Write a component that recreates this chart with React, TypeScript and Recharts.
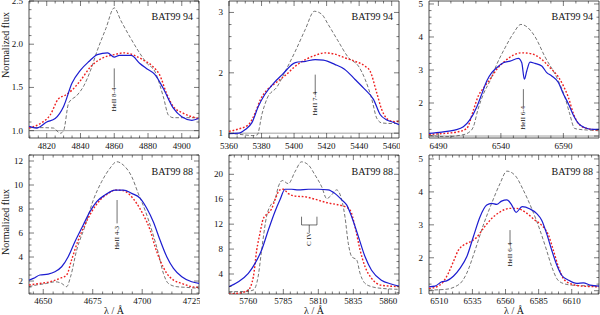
import React from 'react';
import { LineChart, Line, XAxis, YAxis, ReferenceLine, ReferenceArea, ReferenceDot } from 'recharts';

type P = [number, number];

// ---------- Panel 1: BAT99 94, HeII 8-4 ----------
const p1Obs: P[] = [[4809.5,1.05],[4814,1.03],[4820,1.1],[4825,1.14],[4830,1.28],[4835,1.55],[4840,1.7],[4845,1.8],[4850,1.88],[4856,1.9],[4860,1.85],[4863,1.87],[4870,1.87],[4875,1.78],[4879,1.72],[4884,1.65],[4889,1.49],[4895,1.26],[4900,1.16],[4906,1.12],[4910,1.14]];
const p1Red: P[] = [[4809.5,1.03],[4816,1.08],[4822,1.18],[4827,1.37],[4831,1.41],[4835,1.47],[4840,1.58],[4846,1.74],[4852,1.83],[4860,1.88],[4866,1.9],[4872,1.87],[4877,1.82],[4883,1.74],[4887,1.64],[4891,1.43],[4895,1.28],[4901,1.2],[4910,1.14]];
const p1Dash: P[] = [[4809.5,1.035],[4816,1.035],[4824,1.03],[4828,0.97],[4830,1.0],[4833,1.32],[4838,1.41],[4842,1.52],[4846,1.7],[4850,1.93],[4855,2.18],[4860,2.42],[4864,2.27],[4869.4,2.08],[4874,1.93],[4879.3,1.78],[4884.2,1.68],[4889.1,1.39],[4892.1,1.18],[4895,1.15],[4902,1.15],[4910,1.15]];
const p1XTicks = [4820, 4840, 4860, 4880, 4900];
const p1YTicks = [1.0, 1.5, 2.0, 2.5];

// ---------- Panel 2: BAT99 94, HeII 7-4 ----------
const p2Obs: P[] = [[5360,0.99],[5366,1.0],[5370,1.06],[5374,1.17],[5378,1.44],[5382,1.64],[5387.5,1.83],[5392.7,1.97],[5400.8,2.17],[5407,2.19],[5413,2.22],[5418,2.21],[5425,2.14],[5431,2.06],[5437.5,1.89],[5443.7,1.72],[5448.8,1.56],[5452.9,1.31],[5457,1.22],[5461,1.18],[5464.5,1.14]];
const p2Red: P[] = [[5360,1.03],[5366,1.07],[5372,1.14],[5376,1.33],[5379.4,1.56],[5383.5,1.72],[5388.6,1.83],[5394.7,1.96],[5400.8,2.11],[5407,2.22],[5413,2.29],[5419,2.33],[5425,2.31],[5431,2.25],[5437.5,2.19],[5443.7,2.11],[5446.7,2.03],[5450.8,1.67],[5453.9,1.39],[5458,1.22],[5462,1.19],[5464.5,1.2]];
const p2Dash: P[] = [[5360,1.0],[5370.2,0.97],[5374.3,0.96],[5377.3,0.97],[5380.4,1.33],[5383.5,1.58],[5389.6,1.77],[5394.7,2.03],[5400.8,2.36],[5406.9,2.72],[5412.5,3.02],[5417,2.97],[5421,2.8],[5427,2.53],[5433.5,2.25],[5439.6,2.11],[5443.7,1.89],[5447.8,1.56],[5450.8,1.25],[5453.9,1.17],[5460,1.16],[5464.5,1.16]];
const p2XTicks = [5360, 5380, 5400, 5420, 5440, 5460];
const p2YTicks = [1, 2, 3];

// ---------- Panel 3: BAT99 94, HeII 6-4 ----------
const p3Obs: P[] = [[6482.5,1.08],[6492.7,1.12],[6503,1.18],[6510,1.28],[6515,1.48],[6520.7,1.88],[6524.7,2.27],[6528.7,2.67],[6532.7,2.92],[6536.7,3.07],[6542,3.22],[6547.3,3.27],[6554,3.35],[6556.7,3.22],[6558.8,2.72],[6560.7,2.97],[6563.3,3.24],[6567.3,3.2],[6572.7,3.12],[6576.7,2.92],[6580.7,2.82],[6586,2.62],[6590,2.27],[6594,1.98],[6598,1.63],[6602,1.38],[6607.3,1.25],[6614,1.2],[6618.5,1.2]];
const p3Red: P[] = [[6482.5,1.05],[6495.3,1.08],[6506,1.13],[6512.7,1.23],[6518,1.78],[6522,2.22],[6526,2.45],[6531.3,2.72],[6536.7,3.02],[6543.3,3.27],[6550,3.45],[6556.7,3.52],[6564.7,3.49],[6572.7,3.32],[6579.3,3.07],[6586,2.79],[6590,2.52],[6594,2.17],[6598,1.68],[6602,1.38],[6608.7,1.23],[6618.5,1.18]];
const p3Dash: P[] = [[6482.5,1.03],[6495,0.98],[6508.7,1.03],[6514,1.1],[6518,1.28],[6521.5,1.78],[6526,2.27],[6531.3,2.67],[6536.7,3.17],[6543.3,3.67],[6550,4.11],[6556,4.38],[6560.7,4.31],[6567.3,4.01],[6575,3.42],[6586,2.67],[6591.3,2.17],[6595,1.68],[6599,1.23],[6603,1.2],[6610,1.18],[6618.5,1.16]];
const p3XTicks = [6490, 6540, 6590];
const p3YTicks = [1, 2, 3, 4, 5];

// ---------- Panel 4: BAT99 88, HeII 4-3 ----------
const p4Obs: P[] = [[4642.8,2.08],[4645,2.22],[4648.3,2.5],[4652.5,2.58],[4655.9,2.78],[4659.3,3.19],[4662.6,4.03],[4666,5.28],[4670.2,6.67],[4673.6,7.78],[4677,8.61],[4681.2,9.17],[4686.3,9.58],[4690.5,9.58],[4694.7,9.3],[4699,8.89],[4702.3,8.06],[4705.6,6.94],[4709,5.42],[4712.4,4.03],[4715.8,3.06],[4720,2.36],[4725,1.94],[4728.7,1.8]];
const p4Red: P[] = [[4642.8,1.67],[4648.3,1.8],[4653.4,1.94],[4658.4,2.22],[4661.8,2.5],[4664.3,3.75],[4667.7,5.42],[4671,6.67],[4674.5,7.78],[4678.7,8.75],[4682.9,9.3],[4686.3,9.58],[4690.5,9.53],[4693.8,9.17],[4697.2,8.47],[4700.6,7.5],[4704,6.25],[4706.5,4.86],[4709,3.75],[4712.4,2.64],[4715.8,2.08],[4720,1.8],[4725,1.53],[4728.7,1.47]];
const p4Dash: P[] = [[4642.8,1.53],[4646.6,1.67],[4651.7,1.8],[4655.9,1.94],[4659.3,1.8],[4661.8,1.53],[4663.8,2.36],[4666.9,4.58],[4671,6.53],[4675.3,8.75],[4679.5,10.28],[4683.7,11.39],[4687.1,11.94],[4690.4,11.67],[4694.7,10.7],[4698,9.3],[4701.4,7.92],[4704.8,6.25],[4708.2,4.3],[4710.7,2.64],[4713.2,1.8],[4717.5,1.53],[4722.5,1.47],[4728.7,1.39]];
const p4XTicks = [4650, 4675, 4700, 4725];
const p4YTicks = [2, 4, 6, 8, 10, 12];

// ---------- Panel 5: BAT99 88, C IV ----------
const p5Obs: P[] = [[5746.2,1.97],[5752.9,2.77],[5760,4.1],[5764.8,5.7],[5769.5,7.85],[5774.3,11.06],[5779,14.0],[5782.6,15.9],[5786.2,17.6],[5791,17.6],[5795.7,17.5],[5802.9,17.6],[5810,17.6],[5817,17.5],[5822,16.9],[5826.7,15.9],[5830.2,15.1],[5833.8,13.2],[5838.6,10.0],[5843.3,6.8],[5848,4.6],[5855,3.0],[5862,2.4],[5867.6,2.07]];
const p5Red: P[] = [[5746.2,0.79],[5755,1.0],[5760,1.43],[5763.6,3.57],[5766,7.85],[5768.3,10.5],[5770.7,12.9],[5773.8,13.7],[5776.7,14.5],[5779,15.9],[5782.6,17.5],[5785,17.6],[5788.6,16.9],[5793.3,16.5],[5800.5,16.4],[5807.6,16.0],[5817,15.4],[5824.3,15.1],[5829,14.8],[5832.6,14.3],[5836.2,11.6],[5839.8,7.85],[5843.3,5.2],[5848,3.3],[5855,2.2],[5867.6,1.97]];
const p5Dash: P[] = [[5746.2,1.17],[5757.6,1.17],[5763.6,1.43],[5767,3.57],[5769.5,7.85],[5773,13.2],[5776.7,15.3],[5779,15.9],[5781.4,18.0],[5784.3,19.0],[5788.6,18.5],[5793.3,20.4],[5798,22.0],[5802.9,21.5],[5807.6,19.9],[5812.4,18.0],[5816,16.1],[5819.5,16.7],[5823,17.5],[5826.7,15.9],[5829,13.2],[5831.4,8.9],[5833.8,6.8],[5837.4,6.25],[5839.8,4.1],[5843.3,2.5],[5848,1.97],[5855,1.7],[5867.6,1.54]];
const p5XTicks = [5760, 5785, 5810, 5835, 5860];
const p5YTicks = [4, 8, 12, 16, 20];

// ---------- Panel 6: BAT99 88, HeII 6-4 ----------
const p6Obs: P[] = [[6502.2,1.12],[6506.7,1.14],[6511.8,1.27],[6515.5,1.3],[6520.6,1.44],[6525.6,1.68],[6530.7,2.03],[6535.7,2.64],[6540.7,3.24],[6545.8,3.6],[6549.5,3.65],[6553.3,3.62],[6557,3.72],[6561,3.76],[6564.7,3.6],[6568,3.38],[6572.5,3.55],[6578.5,3.48],[6583.6,3.34],[6587.3,3.14],[6591,2.74],[6594.9,2.23],[6598.7,1.78],[6602.4,1.47],[6607.5,1.32],[6613.8,1.22],[6618.8,1.24],[6623.9,1.17],[6630.6,1.14]];
const p6Red: P[] = [[6502.2,1.07],[6508,1.12],[6513,1.27],[6516.8,1.53],[6520.6,1.88],[6524.4,2.23],[6528.1,2.38],[6533.2,2.48],[6538.2,2.62],[6543.2,2.89],[6549.5,3.19],[6555.8,3.39],[6563.4,3.5],[6568.4,3.5],[6574.7,3.39],[6582.3,3.14],[6587.3,2.99],[6592.4,2.69],[6596.1,2.23],[6599.9,1.73],[6603.7,1.37],[6608.7,1.22],[6617.6,1.14],[6630.6,1.12]];
const p6Dash: P[] = [[6502.2,1.02],[6514.3,1.04],[6521.8,1.12],[6526.9,1.27],[6530.7,1.53],[6537,2.23],[6543.2,2.99],[6549.5,3.65],[6555.8,4.25],[6561,4.63],[6567.2,4.5],[6573.5,4.05],[6579.8,3.49],[6586,2.84],[6591,2.23],[6594.9,1.73],[6598.7,1.37],[6602.4,1.24],[6610,1.17],[6630.6,1.14]];
const p6XTicks = [6510, 6535, 6560, 6585, 6610];
const p6YTicks = [1, 2, 3, 4, 5];

// ---------- styling ----------
const FONT = '"Liberation Serif", "DejaVu Serif", serif';
const AX = '#222';
const BLUE = '#1c1cd0';
const RED = '#ee2020';
const DASH = '#3a3a3a';

const toObj = (a: P[]) => a.map(([x, y]) => ({ x, y }));

function range(a: number, b: number, step: number) {
  const out: number[] = [];
  const start = Math.ceil(a / step - 1e-9) * step;
  for (let v = start; v <= b + 1e-9; v += step) out.push(+v.toFixed(4));
  return out;
}

const isMajor = (majors: number[], v: number) => majors.some((m) => Math.abs(m - v) < 1e-6);

const txt = { fontFamily: FONT };

function xTick(majors: number[], top: number, dy: number) {
  return (props: any) => {
    const { x, y, payload } = props;
    const v = payload.value;
    const mj = isMajor(majors, v);
    const len = mj ? 5 : 2.5;
    return (
      <g>
        <line x1={x} x2={x} y1={y} y2={y - len} stroke={AX} strokeWidth={0.6} />
        <line x1={x} x2={x} y1={top} y2={top + len} stroke={AX} strokeWidth={0.6} />
        {mj && (
          <text x={x} y={y + dy} textAnchor="middle" fontSize={9} style={txt} fill="#111">
            {String(v)}
          </text>
        )}
      </g>
    );
  };
}

function yTick(majors: number[], right: number, fmt: (v: number) => string) {
  return (props: any) => {
    const { x, y, payload } = props;
    const v = payload.value;
    const mj = isMajor(majors, v);
    const len = mj ? 5 : 2.5;
    return (
      <g>
        <line x1={x} x2={x + len} y1={y} y2={y} stroke={AX} strokeWidth={0.6} />
        <line x1={right} x2={right - len} y1={y} y2={y} stroke={AX} strokeWidth={0.6} />
        {mj && (
          <text x={x - 6} y={y + 3} textAnchor="end" fontSize={9} style={txt} fill="#111">
            {fmt(v)}
          </text>
        )}
      </g>
    );
  };
}

type Ann = { x: number; y1: number; y2: number; ty: number; text: string };
type Bracket = { xa: number; xb: number; top: number; mid: number; stem: number; ty: number; text: string };

type Panel = {
  left: number;
  top: number;
  row: 0 | 1;
  title: string;
  obs: P[];
  red: P[];
  dash: P[];
  xd: [number, number];
  yd: [number, number];
  xt: number[];
  yt: number[];
  xMinor: number;
  yMinor: number;
  yfmt: (v: number) => string;
  ann?: Ann;
  bracket?: Bracket;
  cont: boolean;
  ylabel: boolean;
  xlabel: boolean;
};

const intFmt = (v: number) => String(v);
const oneDec = (v: number) => v.toFixed(1);

const panels: Panel[] = [
  { left: 0, top: 0, row: 0, title: 'BAT99 94', obs: p1Obs, red: p1Red, dash: p1Dash, xd: [4809.5, 4910.2], yd: [0.915, 2.5], xt: p1XTicks, yt: p1YTicks, xMinor: 5, yMinor: 0.1, yfmt: oneDec, ann: { x: 4860, y1: 1.72, y2: 1.5, ty: 1.36, text: 'HeII 8-4' }, cont: true, ylabel: true, xlabel: false },
  { left: 200, top: 0, row: 0, title: 'BAT99 94', obs: p2Obs, red: p2Red, dash: p2Dash, xd: [5360, 5464.5], yd: [0.92, 3.19], xt: p2XTicks, yt: p2YTicks, xMinor: 5, yMinor: 0.2, yfmt: intFmt, ann: { x: 5413, y1: 1.97, y2: 1.65, ty: 1.49, text: 'HeII 7-4' }, cont: true, ylabel: false, xlabel: false },
  { left: 400, top: 0, row: 0, title: 'BAT99 94', obs: p3Obs, red: p3Red, dash: p3Dash, xd: [6482.5, 6618.5], yd: [0.94, 5.09], xt: p3XTicks, yt: p3YTicks, xMinor: 10, yMinor: 0.2, yfmt: intFmt, ann: { x: 6558, y1: 2.42, y2: 1.9, ty: 1.55, text: 'HeII 6-4' }, cont: true, ylabel: false, xlabel: false },
  { left: 0, top: 153, row: 1, title: 'BAT99 88', obs: p4Obs, red: p4Red, dash: p4Dash, xd: [4642.8, 4728.7], yd: [0.92, 12.5], xt: p4XTicks, yt: p4YTicks, xMinor: 5, yMinor: 0.5, yfmt: intFmt, ann: { x: 4687.3, y1: 8.75, y2: 6.8, ty: 5.6, text: 'HeII 4-3' }, cont: false, ylabel: true, xlabel: true },
  { left: 200, top: 153, row: 1, title: 'BAT99 88', obs: p5Obs, red: p5Red, dash: p5Dash, xd: [5746.2, 5867.6], yd: [0.79, 23.1], xt: p5XTicks, yt: p5YTicks, xMinor: 5, yMinor: 1, yfmt: intFmt, bracket: { xa: 5798, xb: 5809, top: 13.2, mid: 11.87, stem: 10.6, ty: 9.6, text: 'C IV' }, cont: false, ylabel: false, xlabel: true },
  { left: 400, top: 153, row: 1, title: 'BAT99 88', obs: p6Obs, red: p6Red, dash: p6Dash, xd: [6502.2, 6630.6], yd: [0.9, 5.12], xt: p6XTicks, yt: p6YTicks, xMinor: 5, yMinor: 0.2, yfmt: intFmt, ann: { x: 6563.4, y1: 2.84, y2: 2.4, ty: 2.1, text: 'HeII 6-4' }, cont: false, ylabel: false, xlabel: true },
];

const rotText = (text: string) => (props: any) => {
  const { cx, cy } = props;
  return (
    <text
      x={cx}
      y={cy}
      transform={`rotate(-90 ${cx} ${cy})`}
      textAnchor="middle"
      dominantBaseline="central"
      fontSize={7}
      style={txt}
      fill="#111"
    >
      {text}
    </text>
  );
};

const titleShape = (text: string, dy: number) => (props: any) => {
  const { cx, cy } = props;
  return (
    <text x={cx - 6} y={cy + dy} textAnchor="end" fontSize={10} style={txt} fill="#111">
      {text}
    </text>
  );
};

function PanelChart({ p }: { p: Panel }) {
  const W = 200;
  const H = p.row === 0 ? 158 : 162;
  const mTop = p.row === 0 ? 1 : 2;
  const xH = p.row === 0 ? 20 : 21;
  const yW = 29;
  const mRight = 1;
  const plotTop = mTop;
  const plotRight = W - mRight;
  const xTicksAll = range(p.xd[0], p.xd[1], p.xMinor);
  const yTicksAll = range(p.yd[0], p.yd[1], p.yMinor);
  const yOffset = p.row === 0 ? -24.5 : -2.5;
  const tickDy = p.row === 0 ? 11 : 9.5;

  return (
    <div style={{ position: 'absolute', left: p.left, top: p.top, width: W, height: H }}>
      <LineChart width={W} height={H} margin={{ top: mTop, right: mRight, bottom: 0, left: 0 }}>
        <XAxis
          dataKey="x"
          type="number"
          domain={p.xd}
          allowDataOverflow
          ticks={xTicksAll}
          interval={0}
          tickSize={0}
          tickMargin={0}
          tickLine={false}
          axisLine={false}
          height={xH}
          tick={xTick(p.xt, plotTop, tickDy)}
          label={
            p.xlabel
              ? (props: any) => {
                  const vb = props.viewBox || {};
                  return (
                    <text x={vb.x + vb.width / 2} y={vb.y + 19.5} textAnchor="middle" fontSize={10} style={txt} fill="#111">
                      λ / Å
                    </text>
                  );
                }
              : undefined
          }
        />
        <YAxis
          type="number"
          domain={p.yd}
          allowDataOverflow
          ticks={yTicksAll}
          interval={0}
          tickSize={0}
          tickMargin={0}
          tickLine={false}
          axisLine={false}
          width={yW}
          tick={yTick(p.yt, plotRight, p.yfmt)}
          label={
            p.ylabel
              ? (props: any) => {
                  const vb = props.viewBox || {};
                  const cx = vb.x + 8.5;
                  const cy = vb.y + vb.height / 2 + yOffset;
                  return (
                    <text x={cx} y={cy} transform={`rotate(-90 ${cx} ${cy})`} textAnchor="middle" fontSize={10} style={txt} fill="#111">
                      Normalized flux
                    </text>
                  );
                }
              : undefined
          }
        />
        {p.cont && <ReferenceLine y={1} stroke="#8a8a8a" strokeWidth={0.8} />}
        <Line data={toObj(p.dash)} dataKey="y" type="monotone" stroke={DASH} strokeWidth={0.7} strokeDasharray="3.5 2" dot={false} isAnimationActive={false} />
        <Line data={toObj(p.red)} dataKey="y" type="monotone" stroke={RED} strokeWidth={1.4} strokeDasharray="1.8 1.8" dot={false} isAnimationActive={false} />
        <Line data={toObj(p.obs)} dataKey="y" type="monotone" stroke={BLUE} strokeWidth={1.2} dot={false} isAnimationActive={false} />
        {p.ann && (
          <ReferenceLine segment={[{ x: p.ann.x, y: p.ann.y1 }, { x: p.ann.x, y: p.ann.y2 }]} stroke="#111" strokeWidth={0.6} />
        )}
        {p.ann && <ReferenceDot x={p.ann.x} y={p.ann.ty} r={0} ifOverflow="visible" shape={rotText(p.ann.text)} />}
        {p.bracket && (
          <ReferenceLine segment={[{ x: p.bracket.xa, y: p.bracket.top }, { x: p.bracket.xa, y: p.bracket.mid }]} stroke="#111" strokeWidth={0.6} />
        )}
        {p.bracket && (
          <ReferenceLine segment={[{ x: p.bracket.xb, y: p.bracket.top }, { x: p.bracket.xb, y: p.bracket.mid }]} stroke="#111" strokeWidth={0.6} />
        )}
        {p.bracket && (
          <ReferenceLine segment={[{ x: p.bracket.xa, y: p.bracket.mid }, { x: p.bracket.xb, y: p.bracket.mid }]} stroke="#111" strokeWidth={0.6} />
        )}
        {p.bracket && (
          <ReferenceLine
            segment={[{ x: (p.bracket.xa + p.bracket.xb) / 2, y: p.bracket.mid }, { x: (p.bracket.xa + p.bracket.xb) / 2, y: p.bracket.stem }]}
            stroke="#111"
            strokeWidth={0.6}
          />
        )}
        {p.bracket && (
          <ReferenceDot x={(p.bracket.xa + p.bracket.xb) / 2} y={p.bracket.ty} r={0} ifOverflow="visible" shape={rotText(p.bracket.text)} />
        )}
        <ReferenceArea x1={p.xd[0]} x2={p.xd[1]} y1={p.yd[0]} y2={p.yd[1]} fill="none" fillOpacity={0} stroke={AX} strokeWidth={0.8} ifOverflow="visible" />
        <ReferenceDot x={p.xd[1]} y={p.yd[1]} r={0} ifOverflow="visible" shape={titleShape(p.title, p.row === 0 ? 18.5 : 20)} />
      </LineChart>
    </div>
  );
}

export default function App() {
  return (
    <div style={{ position: 'absolute', left: 0, top: 0, width: 600, height: 315, background: '#fff', overflow: 'hidden', fontFamily: FONT }}>
      {panels.map((p, i) => (
        <PanelChart key={i} p={p} />
      ))}
    </div>
  );
}
